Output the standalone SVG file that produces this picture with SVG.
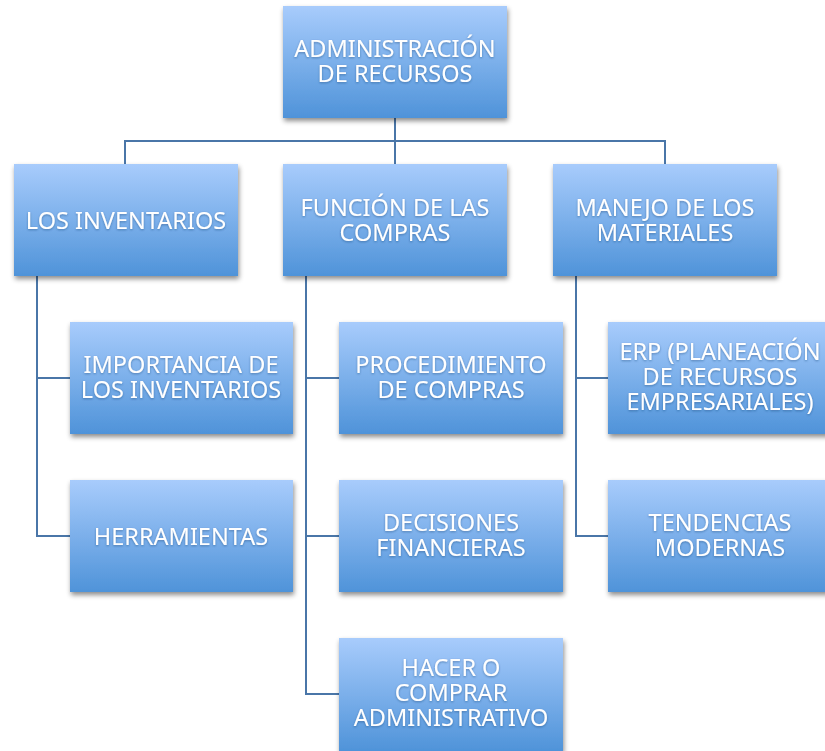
<svg xmlns="http://www.w3.org/2000/svg" width="825" height="751" viewBox="0 0 825 751">
<defs>
<linearGradient id="g" x1="0" y1="0" x2="0" y2="1">
<stop offset="0" stop-color="#A8CCFC"/>
<stop offset="1" stop-color="#4F93D9"/>
</linearGradient>
<filter id="sh" x="-10%" y="-10%" width="125%" height="130%">
<feDropShadow dx="1" dy="3" stdDeviation="2.5" flood-color="#000" flood-opacity="0.45"/>
</filter>
<filter id="ts" x="-5%" y="-20%" width="110%" height="140%">
<feDropShadow dx="0" dy="1" stdDeviation="0.8" flood-color="#1a3d6a" flood-opacity="0.45"/>
</filter>
</defs>
<style>
.box{fill:url(#g);filter:url(#sh)}
.t{font-family:"Noto Sans","Open Sans","DejaVu Sans",sans-serif;font-size:23.5px;fill:#fff;text-anchor:middle;filter:url(#ts)}
.c{fill:none;stroke:#4A76A8;stroke-width:2}
</style>
<rect width="825" height="751" fill="#fff"/>
<g id="connectors">
<path class="c" d="M395 118V164M125 164V141H665V164"/>
<path class="c" d="M37 276V536H70M37 378H70"/>
<path class="c" d="M306 276V694H339M306 378H339M306 536H339"/>
<path class="c" d="M576 276V536H608M576 378H608"/>
</g>
<g id="n-admin"><rect class="box" x="283" y="6" width="224" height="112"/><text class="t"><tspan x="395" y="57">ADMINISTRACIÓN</tspan><tspan x="395" y="82">DE RECURSOS</tspan></text></g>
<g id="n-inv"><rect class="box" x="14" y="164" width="224" height="112"/><text class="t" x="126" y="229">LOS INVENTARIOS</text></g>
<g id="n-fun"><rect class="box" x="283" y="164" width="224" height="112"/><text class="t"><tspan x="395" y="216">FUNCIÓN DE LAS</tspan><tspan x="395" y="241">COMPRAS</tspan></text></g>
<g id="n-man"><rect class="box" x="553" y="164" width="224" height="112"/><text class="t"><tspan x="665" y="216">MANEJO DE LOS</tspan><tspan x="665" y="241">MATERIALES</tspan></text></g>
<g id="n-imp"><rect class="box" x="70" y="322" width="223" height="112"/><text class="t"><tspan x="181" y="373">IMPORTANCIA DE</tspan><tspan x="181" y="398">LOS INVENTARIOS</tspan></text></g>
<g id="n-her"><rect class="box" x="70" y="480" width="223" height="112"/><text class="t" x="181" y="545">HERRAMIENTAS</text></g>
<g id="n-proc"><rect class="box" x="339" y="322" width="224" height="112"/><text class="t"><tspan x="451" y="373">PROCEDIMIENTO</tspan><tspan x="451" y="398">DE COMPRAS</tspan></text></g>
<g id="n-dec"><rect class="box" x="339" y="480" width="224" height="112"/><text class="t"><tspan x="451" y="531">DECISIONES</tspan><tspan x="451" y="556">FINANCIERAS</tspan></text></g>
<g id="n-hac"><rect class="box" x="339" y="638" width="224" height="113"/><text class="t"><tspan x="451" y="676">HACER O</tspan><tspan x="451" y="701">COMPRAR</tspan><tspan x="451" y="726">ADMINISTRATIVO</tspan></text></g>
<g id="n-erp"><rect class="box" x="608" y="322" width="224" height="112"/><text class="t"><tspan x="720" y="360">ERP (PLANEACIÓN</tspan><tspan x="720" y="385">DE RECURSOS</tspan><tspan x="720" y="410">EMPRESARIALES)</tspan></text></g>
<g id="n-ten"><rect class="box" x="608" y="480" width="224" height="112"/><text class="t"><tspan x="720" y="531">TENDENCIAS</tspan><tspan x="720" y="556">MODERNAS</tspan></text></g>
</svg>
